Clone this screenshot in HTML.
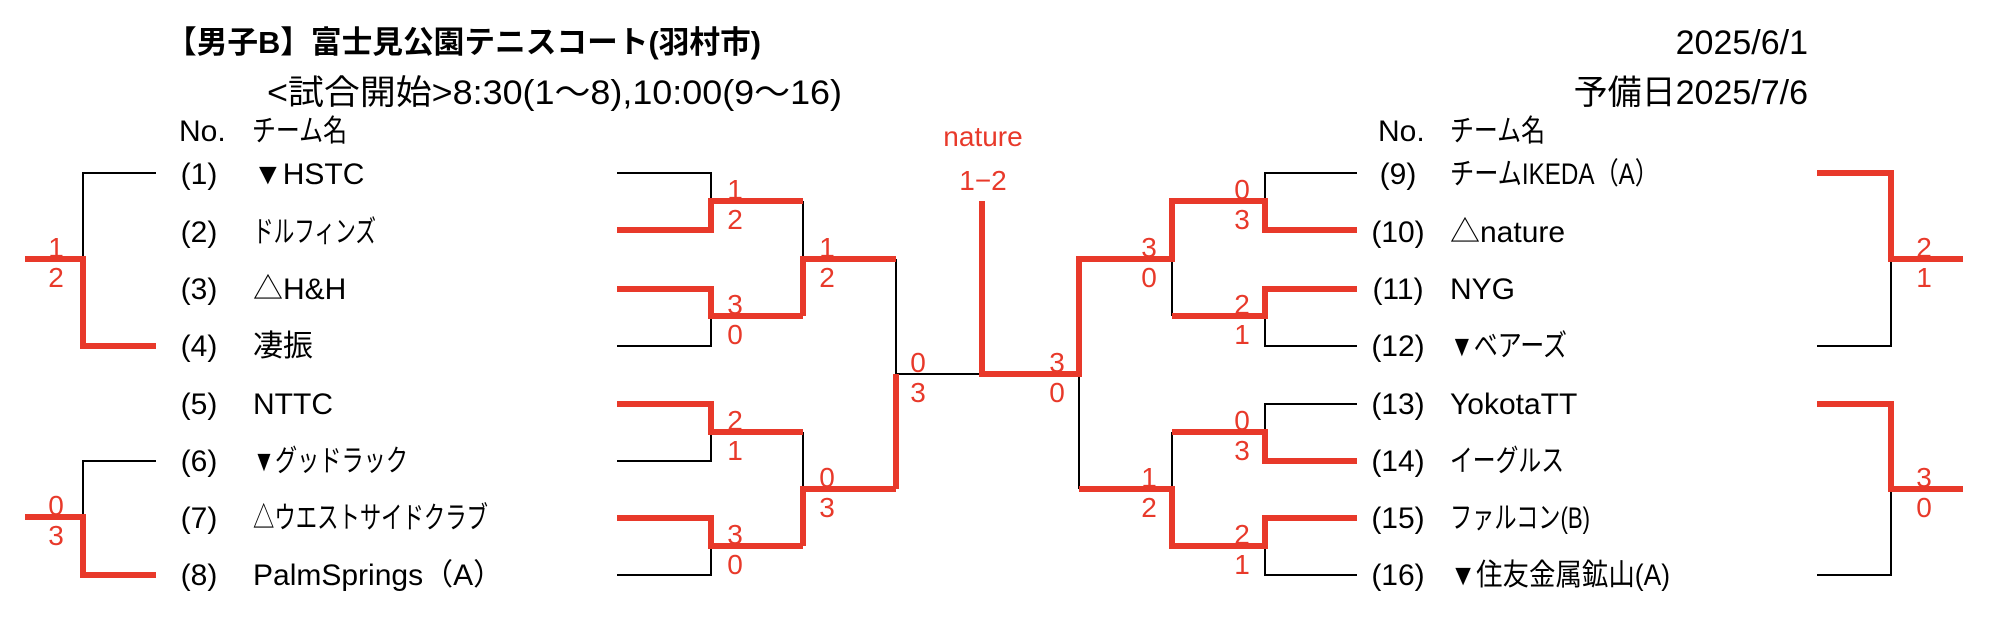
<!DOCTYPE html>
<html><head><meta charset="utf-8"><style>
html,body{margin:0;padding:0;background:#fff;}
svg{display:block;}
text{font-family:"Liberation Sans","Noto Sans CJK JP",sans-serif;}
.t{font-size:30px;fill:#000;}
.s{font-size:28px;fill:#e8392a;text-anchor:middle;}
.k{stroke:#000;stroke-width:2;fill:none;}
.r{stroke:#e8392a;stroke-width:6;fill:none;}
</style></head><body>
<svg width="1990" height="620" viewBox="0 0 1990 620">
<text x="166" y="53" style="font-size:31px;font-weight:bold" textLength="595" lengthAdjust="spacingAndGlyphs">【男子B】富士見公園テニスコート(羽村市)</text>
<text x="267" y="104" style="font-size:34px" textLength="575" lengthAdjust="spacingAndGlyphs">&lt;試合開始&gt;8:30(1～8),10:00(9～16)</text>
<text x="1808" y="54" style="font-size:34px" text-anchor="end">2025/6/1</text>
<text x="1808" y="104" style="font-size:34px" text-anchor="end">予備日2025/7/6</text>
<text x="179" y="141" class="t">No.</text><text x="252" y="141" class="t" textLength="95" lengthAdjust="spacingAndGlyphs">チーム名</text>
<text x="1378" y="141" class="t">No.</text><text x="1450" y="141" class="t" textLength="95" lengthAdjust="spacingAndGlyphs">チーム名</text>
<text x="983" y="146" class="s">nature</text>
<text x="983" y="190" class="s">1−2</text>
<g class="t">
<text x="199" y="184" text-anchor="middle">(1)</text><text x="253" y="184">▼HSTC</text>
<text x="199" y="242" text-anchor="middle">(2)</text><text x="253" y="242" textLength="123" lengthAdjust="spacingAndGlyphs">ドルフィンズ</text>
<text x="199" y="299" text-anchor="middle">(3)</text><text x="253" y="299">△H&amp;H</text>
<text x="199" y="356" text-anchor="middle">(4)</text><text x="253" y="356">凄振</text>
<text x="199" y="414" text-anchor="middle">(5)</text><text x="253" y="414">NTTC</text>
<text x="199" y="471" text-anchor="middle">(6)</text><text x="253" y="471" textLength="155" lengthAdjust="spacingAndGlyphs">▼グッドラック</text>
<text x="199" y="528" text-anchor="middle">(7)</text><text x="253" y="528" textLength="235" lengthAdjust="spacingAndGlyphs">△ウエストサイドクラブ</text>
<text x="199" y="585" text-anchor="middle">(8)</text><text x="253" y="585">PalmSprings（A）</text>
<text x="1398" y="184" text-anchor="middle">(9)</text><text x="1450" y="184" textLength="209" lengthAdjust="spacingAndGlyphs">チームIKEDA（A）</text>
<text x="1398" y="242" text-anchor="middle">(10)</text><text x="1450" y="242">△nature</text>
<text x="1398" y="299" text-anchor="middle">(11)</text><text x="1450" y="299">NYG</text>
<text x="1398" y="356" text-anchor="middle">(12)</text><text x="1450" y="356" textLength="117" lengthAdjust="spacingAndGlyphs">▼ベアーズ</text>
<text x="1398" y="414" text-anchor="middle">(13)</text><text x="1450" y="414">YokotaTT</text>
<text x="1398" y="471" text-anchor="middle">(14)</text><text x="1450" y="471" textLength="114" lengthAdjust="spacingAndGlyphs">イーグルス</text>
<text x="1398" y="528" text-anchor="middle">(15)</text><text x="1450" y="528" textLength="140" lengthAdjust="spacingAndGlyphs">ファルコン(B)</text>
<text x="1398" y="585" text-anchor="middle">(16)</text><text x="1450" y="585" textLength="220" lengthAdjust="spacingAndGlyphs">▼住友金属鉱山(A)</text>
</g>
<path class="k" d="M156 173H83V259 M156 461H83V517
M617 173H711V201 M617 346H711V316 M617 461H711V432 M617 575H711V546
M803 201V259 M803 432V489 M896 259V374H982
M1079 374V489
M1357 173H1265V201 M1357 346H1265V316 M1357 404H1265V432 M1357 575H1265V546
M1172 259V316 M1172 432V489
M1817 346H1891V259 M1817 575H1891V489"/>
<path class="r" d="M25 259H83V346H156 M25 517H83V575H156
M617 230H711V201H803 M617 289H711V316H803 M617 404H711V432H803 M617 518H711V546H803
M803 316V259H896 M803 546V489H896 M896 489V374
M982 201V374H1079V259H1172V201H1265V230H1357
M1357 289H1265V316H1172 M1079 489H1172V546H1265V518H1357
M1172 432H1265V461H1357
M1817 173H1891V259H1963 M1817 404H1891V489H1963"/>
<g class="s">
<text x="56" y="257">1</text><text x="56" y="287">2</text>
<text x="56" y="515">0</text><text x="56" y="545">3</text>
<text x="735" y="199">1</text><text x="735" y="229">2</text>
<text x="735" y="314">3</text><text x="735" y="344">0</text>
<text x="735" y="430">2</text><text x="735" y="460">1</text>
<text x="735" y="544">3</text><text x="735" y="574">0</text>
<text x="827" y="257">1</text><text x="827" y="287">2</text>
<text x="827" y="487">0</text><text x="827" y="517">3</text>
<text x="918" y="372">0</text><text x="918" y="402">3</text>
<text x="1057" y="372">3</text><text x="1057" y="402">0</text>
<text x="1149" y="257">3</text><text x="1149" y="287">0</text>
<text x="1149" y="487">1</text><text x="1149" y="517">2</text>
<text x="1242" y="199">0</text><text x="1242" y="229">3</text>
<text x="1242" y="314">2</text><text x="1242" y="344">1</text>
<text x="1242" y="430">0</text><text x="1242" y="460">3</text>
<text x="1242" y="544">2</text><text x="1242" y="574">1</text>
<text x="1924" y="257">2</text><text x="1924" y="287">1</text>
<text x="1924" y="487">3</text><text x="1924" y="517">0</text>
</g>
</svg>
</body></html>
